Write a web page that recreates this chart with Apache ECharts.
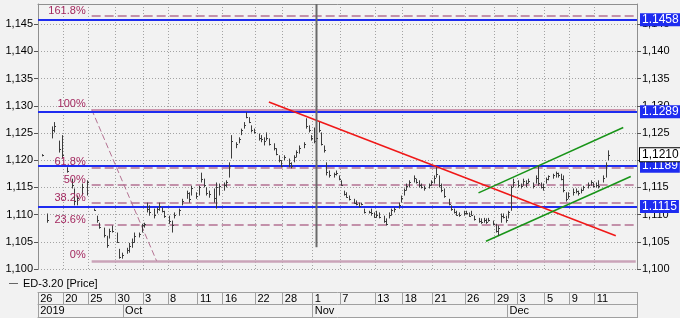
<!DOCTYPE html>
<html><head><meta charset="utf-8">
<script src="https://cdn.jsdelivr.net/npm/echarts@6/dist/echarts.min.js"></script>
<style>html,body{margin:0;padding:0;background:#f2f2f2}#c{width:680px;height:318px}</style>
</head><body><div id="c"></div>
<script>
// ---- data ----
const SLOTS = 240; // time slots along the (non-linear) date axis
const dayTickIdx = [0,10,20,31,42,52,64,74,87,98,110,121,135,146,158,171,183,192,203,213,223];
const dayLabels  = ['26','20','25','30','3','8','11','16','22','28','1','7','13','18','21','26','29','3','5','9','11'];
const monthTickIdx = [0,34,110,188];
const monthLabels  = ['2019','Oct','Nov','Dec'];
const yTickValues = [1.100,1.105,1.110,1.115,1.120,1.125,1.130,1.135,1.140,1.145];
// price bars: [slot, high, low, close]
const priceBars = [
[1,1.1211,1.1207,1.1209],[3,1.1102,1.1085,1.1090],[5,1.1262,1.1240,1.1255],[6,1.1270,1.1251,1.1262],
[8,1.1236,1.1214,1.1220],[9,1.1246,1.1203,1.1210],[11,1.1187,1.1177,1.1180],[13,1.1166,1.1148,1.1155],
[14,1.1148,1.1117,1.1125],[15,1.1135,1.1117,1.1130],[17,1.1157,1.1135,1.1150],[19,1.1163,1.1135,1.1160],
[22,1.1111,1.1107,1.1108],[23,1.1098,1.1085,1.1090],[24,1.1085,1.1074,1.1078],[26,1.1076,1.1058,1.1062],
[27,1.1061,1.1039,1.1045],[28,1.1074,1.1056,1.1070],[29,1.1080,1.1067,1.1070],[31,1.1067,1.1048,1.1050],
[32,1.1037,1.1019,1.1022],[33,1.1030,1.1019,1.1025],[35,1.1039,1.1028,1.1035],[36,1.1048,1.1030,1.1042],
[37,1.1056,1.1039,1.1050],[38,1.1067,1.1048,1.1060],[40,1.1067,1.1058,1.1064],[41,1.1083,1.1067,1.1080],
[42,1.1085,1.1076,1.1082],[43,1.1122,1.1104,1.1110],[44,1.1117,1.1098,1.1105],[46,1.1111,1.1093,1.1100],
[47,1.1113,1.1102,1.1110],[48,1.1122,1.1107,1.1115],[49,1.1113,1.1104,1.1106],[50,1.1107,1.1094,1.1098],
[52,1.1098,1.1083,1.1088],[53,1.1089,1.1067,1.1080],[54,1.1104,1.1093,1.1100],[56,1.1111,1.1098,1.1108],
[57,1.1129,1.1117,1.1125],[59,1.1144,1.1129,1.1140],[60,1.1141,1.1122,1.1128],[61,1.1153,1.1135,1.1148],
[63,1.1141,1.1129,1.1135],[64,1.1153,1.1135,1.1150],[65,1.1177,1.1159,1.1165],[66,1.1166,1.1150,1.1155],
[67,1.1150,1.1135,1.1140],[68,1.1144,1.1131,1.1138],[70,1.1148,1.1122,1.1130],[71,1.1159,1.1111,1.1150],
[72,1.1157,1.1135,1.1152],[74,1.1159,1.1144,1.1155],[75,1.1163,1.1150,1.1160],[76,1.1196,1.1168,1.1190],
[77,1.1246,1.1203,1.1235],[79,1.1233,1.1222,1.1230],[80,1.1242,1.1231,1.1238],[81,1.1258,1.1246,1.1255],
[82,1.1270,1.1258,1.1265],[83,1.1288,1.1277,1.1280],[84,1.1279,1.1268,1.1270],[85,1.1264,1.1251,1.1255],
[86,1.1258,1.1249,1.1252],[88,1.1249,1.1236,1.1240],[89,1.1246,1.1233,1.1238],[90,1.1242,1.1227,1.1235],
[91,1.1251,1.1236,1.1240],[92,1.1240,1.1227,1.1230],[94,1.1231,1.1218,1.1222],[95,1.1222,1.1209,1.1212],
[96,1.1209,1.1196,1.1200],[97,1.1200,1.1187,1.1190],[98,1.1209,1.1200,1.1205],[100,1.1203,1.1187,1.1195],
[101,1.1196,1.1185,1.1190],[102,1.1209,1.1196,1.1205],[103,1.1218,1.1205,1.1215],[104,1.1227,1.1212,1.1222],
[106,1.1233,1.1222,1.1230],[107,1.1277,1.1258,1.1262],[108,1.1264,1.1251,1.1255],[109,1.1246,1.1236,1.1240],
[110,1.1260,1.1231,1.1235],[111,1.1490,1.1040,1.1240],[112,1.1270,1.1251,1.1255],[113,1.1251,1.1227,1.1230],
[114,1.1227,1.1214,1.1218],[115,1.1196,1.1172,1.1178],[116,1.1181,1.1168,1.1172],[118,1.1177,1.1168,1.1175],
[119,1.1181,1.1172,1.1176],[120,1.1172,1.1163,1.1165],[121,1.1163,1.1153,1.1155],[122,1.1144,1.1135,1.1138],
[123,1.1141,1.1131,1.1133],[124,1.1135,1.1126,1.1128],[126,1.1129,1.1120,1.1122],[127,1.1126,1.1117,1.1119],
[128,1.1122,1.1113,1.1115],[129,1.1122,1.1117,1.1120],[130,1.1111,1.1102,1.1104],[132,1.1107,1.1102,1.1105],
[133,1.1111,1.1098,1.1102],[134,1.1104,1.1094,1.1096],[135,1.1107,1.1094,1.1100],[136,1.1104,1.1093,1.1095],
[138,1.1098,1.1085,1.1088],[139,1.1093,1.1080,1.1083],[140,1.1104,1.1093,1.1100],[141,1.1111,1.1098,1.1108],
[142,1.1113,1.1104,1.1110],[144,1.1122,1.1111,1.1118],[145,1.1135,1.1122,1.1130],[146,1.1148,1.1135,1.1145],
[147,1.1157,1.1144,1.1152],[148,1.1163,1.1150,1.1160],[150,1.1172,1.1159,1.1168],[151,1.1166,1.1157,1.1160],
[152,1.1163,1.1150,1.1155],[153,1.1157,1.1148,1.1150],[154,1.1153,1.1144,1.1148],[156,1.1157,1.1148,1.1155],
[157,1.1163,1.1153,1.1160],[158,1.1172,1.1157,1.1168],[159,1.1187,1.1168,1.1175],[160,1.1172,1.1150,1.1155],
[161,1.1157,1.1141,1.1145],[162,1.1148,1.1131,1.1135],[164,1.1129,1.1117,1.1120],[165,1.1117,1.1107,1.1110],
[166,1.1111,1.1102,1.1105],[167,1.1107,1.1098,1.1100],[168,1.1104,1.1096,1.1100],[170,1.1107,1.1098,1.1103],
[171,1.1107,1.1100,1.1102],[172,1.1104,1.1096,1.1098],[173,1.1107,1.1098,1.1100],[174,1.1098,1.1089,1.1092],
[176,1.1094,1.1085,1.1088],[177,1.1093,1.1083,1.1086],[178,1.1094,1.1085,1.1090],[179,1.1093,1.1083,1.1087],
[180,1.1094,1.1087,1.1090],[182,1.1089,1.1080,1.1082],[183,1.1083,1.1067,1.1070],[184,1.1080,1.1061,1.1075],
[185,1.1102,1.1085,1.1098],[186,1.1102,1.1093,1.1095],[187,1.1098,1.1085,1.1090],[188,1.1107,1.1093,1.1104],
[189,1.1153,1.1107,1.1150],[190,1.1166,1.1150,1.1160],[192,1.1163,1.1150,1.1155],[193,1.1157,1.1148,1.1152],
[194,1.1166,1.1153,1.1162],[195,1.1163,1.1150,1.1158],[196,1.1166,1.1157,1.1162],[198,1.1159,1.1148,1.1152],
[199,1.1172,1.1157,1.1168],[200,1.1190,1.1153,1.1158],[201,1.1159,1.1148,1.1150],[202,1.1157,1.1144,1.1150],
[203,1.1168,1.1157,1.1165],[204,1.1172,1.1163,1.1170],[206,1.1175,1.1166,1.1172],[207,1.1179,1.1168,1.1176],
[208,1.1177,1.1168,1.1172],[209,1.1175,1.1163,1.1166],[210,1.1172,1.1141,1.1145],[211,1.1141,1.1124,1.1128],
[212,1.1141,1.1129,1.1135],[214,1.1148,1.1135,1.1142],[215,1.1148,1.1139,1.1144],[216,1.1144,1.1135,1.1140],
[217,1.1148,1.1139,1.1145],[218,1.1153,1.1144,1.1150],[220,1.1159,1.1148,1.1155],[221,1.1163,1.1153,1.1160],
[222,1.1159,1.1150,1.1153],[223,1.1159,1.1150,1.1155],[224,1.1163,1.1148,1.1152],[226,1.1172,1.1159,1.1168],
[227,1.1196,1.1168,1.1192],[228,1.1218,1.1200,1.1210]
];
const blueLevels = [1.1458, 1.1289, 1.1189, 1.1115];
const lastPrice = 1.1210;
const fibHigh = 1.1293, fibLow = 1.1015;
const fibRatios = [1.618, 1.0, 0.618, 0.5, 0.382, 0.236, 0];
const fibLabels = ['161.8%','100%','61.8%','50%','38.2%','23.6%','0%'];
const fibStartSlot = 21, fibDiagEndSlot = 47;
const redTrend   = [[92, 1.1307], [231, 1.1061]];
const greenUpper = [[176, 1.1140], [234, 1.1260]];
const greenLower = [[179, 1.1051], [237, 1.1170]];
const seriesName = 'ED-3.20 [Price]';

// ---- chart ----
const cats = Array.from({length: SLOTS}, (_, i) => String(i));
const dayMap = new Map(dayTickIdx.map((k, i) => [k, dayLabels[i]]));
const monMap = new Map(monthTickIdx.map((k, i) => [k, monthLabels[i]]));
const FONT = '"Liberation Sans", Arial, sans-serif';
const GRIDC = '#a3a3a3', FRAME = '#8f8f8f', TABLE = '#a0a0a0';
const fmtComma = v => v.toFixed(3).replace('.', ',');
const fibColor = '#b47292', fibText = '#a3285f';

const fibLines = fibRatios.map((r, i) => {
  const v = fibLow + r * (fibHigh - fibLow);
  const style = r === 0 ? {color:'#caa3b8', width:2.5, type:'solid'}
              : r === 1 ? {color:'#c07898', width:1.5, type:'solid'}
              : {color:fibColor, width:1.5, type:[9,4]};
  return [{name: fibLabels[i], coord:[String(fibStartSlot), v], lineStyle: style},
          {coord:[String(SLOTS - 1), v]}];
});
const pair = (p, color) => [{coord:[String(p[0][0]), p[0][1]], lineStyle:{color, width:1.5, type:'solid'}},
                            {coord:[String(p[1][0]), p[1][1]]}];

const xBase = {type:'category', data:cats, gridIndex:0, boundaryGap:true};
const option = {
  animation:false,
  backgroundColor:'#f2f2f2',
  textStyle:{fontFamily:FONT},
  grid:{left:38, right:43, top:4, bottom:49},
  legend:{data:[seriesName], left:9, top:278, padding:0, icon:'rect', itemWidth:9, itemHeight:1,
    itemGap:5, textStyle:{fontSize:11, color:'#000', fontFamily:FONT}},
  xAxis:[
    Object.assign({}, xBase, {position:'bottom', axisLine:{show:false}, axisTick:{show:false}, axisLabel:{show:false},
      splitLine:{show:true, interval:(i) => dayMap.has(i), lineStyle:{color:GRIDC, type:[1,2], width:1}}}),
    Object.assign({}, xBase, {position:'bottom', offset:23,
      axisLine:{show:true, lineStyle:{color:TABLE}},
      axisTick:{show:true, length:12, interval:(i) => dayMap.has(i) || i >= SLOTS, lineStyle:{color:TABLE}},
      axisLabel:{show:true, interval:(i) => dayMap.has(i), formatter:(v, i) => dayMap.get(i) || '',
        align:'left', margin:1, padding:[0,0,0,1], fontSize:11, color:'#000', fontFamily:FONT}}),
    Object.assign({}, xBase, {position:'bottom', offset:35,
      axisLine:{show:true, lineStyle:{color:TABLE}},
      axisTick:{show:true, length:14, interval:(i) => monMap.has(i) || i >= SLOTS, lineStyle:{color:TABLE}},
      axisLabel:{show:true, interval:(i) => monMap.has(i), formatter:(v, i) => monMap.get(i) || '',
        align:'left', margin:1, padding:[0,0,0,1], fontSize:11, color:'#000', fontFamily:FONT}}),
    Object.assign({}, xBase, {position:'bottom', offset:48,
      axisLine:{show:true, lineStyle:{color:TABLE}}, axisTick:{show:false}, axisLabel:{show:false}}),
    Object.assign({}, xBase, {position:'top',
      axisLine:{show:true, lineStyle:{color:FRAME}}, axisTick:{show:false}, axisLabel:{show:false}})
  ],
  yAxis:[
    {type:'value', position:'left', min:yTickValues[0], max:1.1487, interval:0.005,
      axisLine:{show:true, lineStyle:{color:FRAME}},
      axisTick:{show:true, length:4, lineStyle:{color:'#555'}},
      axisLabel:{fontSize:11, color:'#000', margin:5, showMaxLabel:false, formatter:fmtComma, fontFamily:FONT},
      splitLine:{show:true, lineStyle:{color:GRIDC, type:[1,2], width:1}}},
    {type:'value', position:'right', min:yTickValues[0], max:1.1487, interval:0.005,
      axisLine:{show:true, lineStyle:{color:FRAME}},
      axisTick:{show:true, length:4, lineStyle:{color:'#555'}},
      axisLabel:{fontSize:11, color:'#000', margin:5, showMaxLabel:false, formatter:fmtComma, fontFamily:FONT},
      splitLine:{show:false}}
  ],
  series:[
    {type:'line', name:'fib', data:[], silent:true,
      markLine:{symbol:'none', silent:true, animation:false, precision:5,
        label:{show:true, position:'start', formatter:'{b}', color:fibText, fontSize:11, fontFamily:FONT,
          verticalAlign:'bottom', distance:6},
        data: fibLines.concat([[
          {coord:[String(fibStartSlot), fibHigh], lineStyle:{color:fibColor, width:1, type:[6,3]}, label:{show:false}},
          {coord:[String(fibDiagEndSlot), fibLow]}]])
      }},
    {type:'line', name:'blue', data:[], silent:true, z:3,
      markLine:{symbol:'none', silent:true, animation:false, precision:5,
        lineStyle:{color:'#1e2cf0', width:2, type:'solid'},
        label:{show:true, position:'end', distance:3, backgroundColor:'#1e2cf0', color:'#fff',
          fontSize:12, fontFamily:FONT, padding:[1,2,0,2]},
        data: blueLevels.map(v => ({yAxis:v, label:{formatter:v.toFixed(4)}}))
      }},
    {type:'line', name:'last', data:[], silent:true, z:4,
      markLine:{symbol:'none', silent:true, animation:false, precision:5,
        lineStyle:{color:'rgba(0,0,0,0)', width:1, type:'solid'},
        label:{show:true, position:'end', distance:3, backgroundColor:'#ffffff', color:'#000000',
          borderColor:'#000000', borderWidth:1, fontSize:12, fontFamily:FONT, padding:[1,2,0,2],
          formatter: lastPrice.toFixed(4).replace('.', ',')},
        data:[{yAxis:lastPrice}]
      }},
    {type:'line', name:'trend', data:[], silent:true, z:3,
      markLine:{symbol:'none', silent:true, animation:false, precision:5, label:{show:false},
        data:[pair(redTrend, '#f01818'), pair(greenUpper, '#189418'), pair(greenLower, '#189418')]
      }},
    {type:'custom', name:seriesName, data:priceBars, clip:true, z:5,
      itemStyle:{color:'#666'},
      encode:{x:0, y:[1,2,3]},
      renderItem:(params, api) => {
        const i = api.value(0);
        const pH = api.coord([i, api.value(1)]);
        const pL = api.coord([i, api.value(2)]);
        const pC = api.coord([i, api.value(3)]);
        const x = Math.round(pH[0]) + 0.5;
        const spike = api.value(1) - api.value(2) > 0.02;
        return {type:'group', children:[
          {type:'line', shape:{x1:x, y1:pH[1], x2:x, y2:pL[1]},
            style:{stroke: spike ? '#6a6a6a' : '#3c3c3c', lineWidth: spike ? 2 : 1}},
          {type:'line', shape:{x1:x, y1:Math.round(pC[1]) + 0.5, x2:x + 1.5, y2:Math.round(pC[1]) + 0.5},
            style:{stroke:'#3c3c3c', lineWidth:1}}
        ]};
      }}
  ]
};
const chart = echarts.init(document.getElementById('c'));
chart.setOption(option);
</script>
</body></html>
